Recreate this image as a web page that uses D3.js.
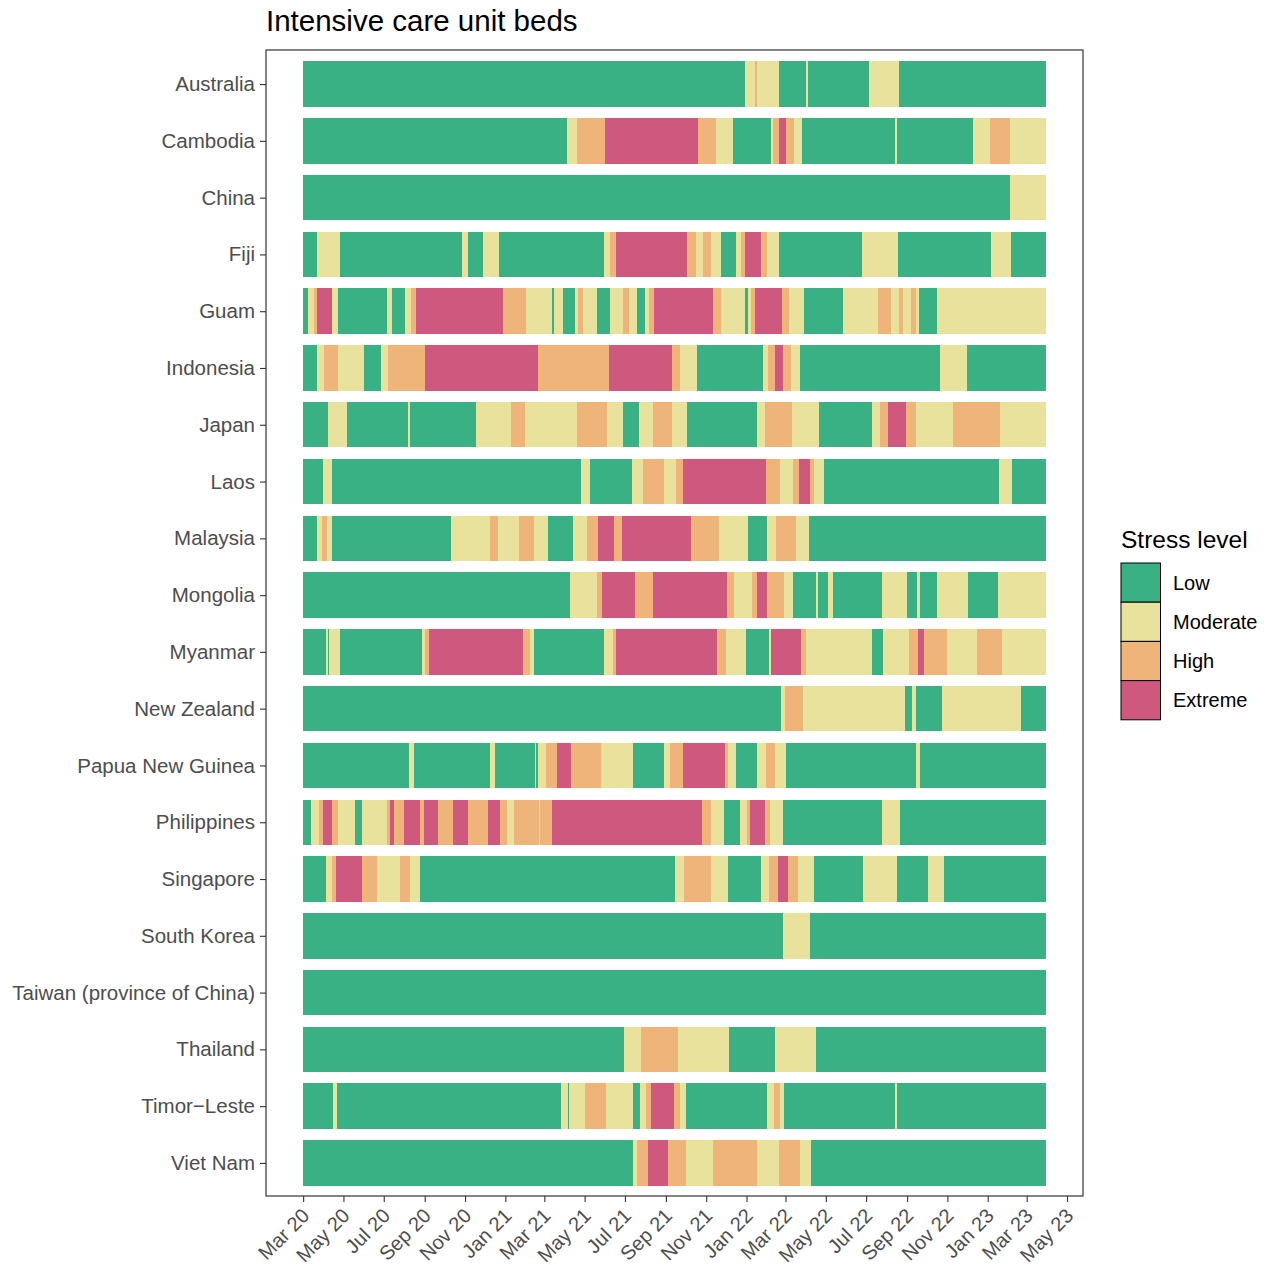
<!DOCTYPE html>
<html><head><meta charset="utf-8">
<script src="https://cdn.jsdelivr.net/npm/d3@7"></script>
<style>
body{margin:0;background:#fff;}
text{font-family:"Liberation Sans",Arial,Helvetica,sans-serif;}
</style>
</head><body>
<svg id="chart" width="1270" height="1265"></svg>
<script>
// ---------------- DATA ----------------
// Each country: list of [dayOffsetFromStart, stressLevelCode]; a level holds until the next change point.
const startDate = "2020-03-01";
const lastDay = 1124;
const levelCodes = ["L", "M", "H", "E"];
const levelNames = ["Low", "Moderate", "High", "Extreme"];
const levelColors = ["#39b185", "#e9e29c", "#eeb479", "#cf597e"];
const tickMonths = ["2020-03-01","2020-05-01","2020-07-01","2020-09-01","2020-11-01","2021-01-01","2021-03-01","2021-05-01","2021-07-01","2021-09-01","2021-11-01","2022-01-01","2022-03-01","2022-05-01","2022-07-01","2022-09-01","2022-11-01","2023-01-01","2023-03-01","2023-05-01"];
const countries = ["Australia","Cambodia","China","Fiji","Guam","Indonesia","Japan","Laos","Malaysia","Mongolia","Myanmar","New Zealand","Papua New Guinea","Philippines","Singapore","South Korea","Taiwan (province of China)","Thailand","Timor\u2212Leste","Viet Nam"];

const australia = [[0,"L"],[669,"M"],[684,"H"],[687,"M"],[720,"L"],[761,"M"],[764,"L"],[856,"M"],[902,"L"]];
const cambodia = [[0,"L"],[400,"M"],[415,"H"],[457,"E"],[598,"H"],[625,"M"],[651,"L"],[708,"M"],[711,"H"],[720,"E"],[731,"H"],[743,"M"],[755,"L"],[896,"M"],[899,"L"],[1014,"M"],[1040,"H"],[1070,"M"]];
const china = [[0,"L"],[1070,"M"]];
const fiji = [[0,"L"],[21,"M"],[56,"L"],[241,"M"],[250,"L"],[272,"M"],[297,"L"],[455,"M"],[465,"H"],[474,"E"],[581,"H"],[595,"M"],[605,"H"],[617,"M"],[633,"L"],[655,"M"],[663,"H"],[669,"E"],[693,"H"],[702,"M"],[720,"L"],[846,"M"],[900,"L"],[1041,"M"],[1071,"L"]];
const guam = [[0,"L"],[8,"M"],[17,"H"],[21,"E"],[44,"M"],[53,"L"],[127,"M"],[135,"L"],[154,"M"],[163,"H"],[171,"E"],[303,"H"],[337,"M"],[377,"L"],[380,"M"],[393,"L"],[412,"M"],[416,"H"],[424,"M"],[445,"L"],[465,"M"],[484,"H"],[493,"M"],[505,"L"],[518,"M"],[524,"H"],[531,"E"],[620,"H"],[633,"M"],[669,"L"],[673,"M"],[678,"H"],[684,"E"],[725,"H"],[735,"M"],[758,"L"],[817,"M"],[870,"H"],[890,"M"],[902,"H"],[908,"M"],[920,"H"],[928,"M"],[932,"L"],[959,"M"]];
const indonesia = [[0,"L"],[21,"M"],[32,"H"],[53,"M"],[92,"L"],[118,"M"],[129,"H"],[185,"E"],[356,"H"],[463,"E"],[558,"H"],[570,"M"],[596,"L"],[696,"M"],[704,"H"],[714,"E"],[726,"H"],[738,"M"],[752,"L"],[964,"M"],[1005,"L"]];
const japan = [[0,"L"],[38,"M"],[67,"L"],[159,"M"],[162,"L"],[262,"M"],[315,"H"],[336,"M"],[415,"H"],[460,"M"],[484,"L"],[508,"M"],[530,"H"],[558,"M"],[581,"L"],[687,"M"],[699,"H"],[740,"M"],[781,"L"],[861,"M"],[873,"H"],[885,"E"],[912,"H"],[928,"M"],[984,"H"],[1055,"M"]];
const laos = [[0,"L"],[30,"M"],[44,"L"],[421,"M"],[434,"L"],[498,"M"],[515,"H"],[546,"M"],[564,"H"],[575,"E"],[701,"H"],[722,"M"],[741,"H"],[751,"E"],[767,"H"],[773,"M"],[788,"L"],[1053,"M"],[1073,"L"]];
const malaysia = [[0,"L"],[21,"M"],[29,"H"],[36,"M"],[44,"L"],[224,"M"],[283,"H"],[295,"M"],[327,"H"],[350,"M"],[371,"L"],[409,"M"],[430,"H"],[446,"E"],[471,"H"],[483,"E"],[587,"H"],[629,"M"],[673,"L"],[702,"M"],[716,"H"],[746,"M"],[766,"L"]];
const mongolia = [[0,"L"],[404,"M"],[445,"H"],[452,"E"],[502,"H"],[530,"E"],[642,"H"],[652,"M"],[679,"H"],[687,"E"],[702,"H"],[728,"M"],[741,"L"],[776,"M"],[779,"L"],[794,"M"],[802,"L"],[876,"M"],[914,"L"],[929,"M"],[934,"L"],[959,"M"],[1006,"L"],[1052,"M"]];
const myanmar = [[0,"L"],[35,"M"],[38,"L"],[39,"M"],[56,"L"],[180,"M"],[185,"H"],[191,"E"],[333,"H"],[344,"M"],[350,"L"],[455,"M"],[469,"H"],[474,"E"],[626,"H"],[640,"M"],[670,"L"],[705,"M"],[708,"E"],[754,"H"],[761,"M"],[861,"L"],[878,"M"],[917,"H"],[931,"E"],[940,"H"],[974,"M"],[1020,"H"],[1058,"M"]];
const newZealand = [[0,"L"],[723,"M"],[729,"H"],[757,"M"],[911,"L"],[922,"M"],[928,"L"],[967,"M"],[1086,"L"]];
const papuaNewGuinea = [[0,"L"],[160,"M"],[168,"L"],[283,"M"],[291,"L"],[351,"M"],[353,"L"],[356,"M"],[368,"H"],[384,"E"],[406,"H"],[451,"M"],[499,"L"],[546,"M"],[555,"H"],[575,"E"],[639,"H"],[643,"M"],[655,"L"],[687,"M"],[701,"H"],[714,"M"],[731,"L"],[928,"M"],[934,"L"]];
const philippines = [[0,"L"],[12,"M"],[24,"H"],[30,"E"],[44,"H"],[53,"M"],[79,"L"],[89,"M"],[127,"H"],[132,"E"],[138,"H"],[153,"E"],[177,"H"],[183,"E"],[204,"H"],[227,"E"],[250,"H"],[280,"E"],[298,"H"],[309,"M"],[319,"H"],[357,"M"],[359,"H"],[377,"E"],[604,"H"],[617,"M"],[637,"L"],[661,"M"],[672,"H"],[676,"E"],[699,"H"],[707,"M"],[726,"L"],[876,"M"],[903,"L"]];
const singapore = [[0,"L"],[35,"M"],[44,"H"],[50,"E"],[89,"H"],[112,"M"],[147,"H"],[162,"M"],[177,"L"],[563,"M"],[577,"H"],[617,"M"],[643,"L"],[693,"M"],[705,"H"],[719,"E"],[734,"H"],[749,"M"],[773,"L"],[847,"M"],[899,"L"],[946,"M"],[970,"L"]];
const southKorea = [[0,"L"],[726,"M"],[767,"L"]];
const taiwan = [[0,"L"]];
const thailand = [[0,"L"],[486,"M"],[511,"H"],[567,"M"],[645,"L"],[714,"M"],[776,"L"]];
const timorLeste = [[0,"L"],[45,"M"],[51,"L"],[390,"M"],[401,"L"],[402,"M"],[427,"H"],[458,"M"],[499,"L"],[510,"M"],[519,"H"],[527,"E"],[561,"H"],[570,"M"],[580,"L"],[702,"M"],[713,"H"],[722,"M"],[728,"L"],[896,"M"],[899,"L"]];
const vietNam = [[0,"L"],[499,"M"],[505,"H"],[522,"E"],[552,"H"],[580,"M"],[620,"H"],[687,"M"],[720,"H"],[752,"M"],[769,"L"]];

const countryRuns = [australia,cambodia,china,fiji,guam,indonesia,japan,laos,malaysia,mongolia,myanmar,newZealand,papuaNewGuinea,philippines,singapore,southKorea,taiwan,thailand,timorLeste,vietNam];

// ---------------- CHART ----------------
const svg = d3.select("#chart");
const panel = {left: 266, right: 1083, top: 50, bottom: 1196};
const parse = d3.utcParse("%Y-%m-%d");
const t0 = parse(startDate);
const dayToDate = d => d3.utcDay.offset(t0, d);
const tEnd = dayToDate(lastDay);
const span = tEnd - t0;
const x = d3.scaleUtc()
  .domain([new Date(+t0 - span * 0.05), new Date(+tEnd + span * 0.05)])
  .range([panel.left, panel.right]);
const y = d3.scalePoint().domain(countries).range([panel.top, panel.bottom + 1]).padding(0.6);
const barH = y.step() * 0.8;
const color = d3.scaleOrdinal().domain(levelCodes).range(levelColors);

svg.append("rect").attr("width", 1270).attr("height", 1265).attr("fill", "#fff");

// segments
const segs = [];
countries.forEach((c, ci) => {
  const runs = countryRuns[ci];
  runs.forEach((r, i) => {
    const s = r[0];
    const e = i + 1 < runs.length ? runs[i + 1][0] : lastDay;
    segs.push({country: c, start: s, end: e, level: r[1]});
  });
});
svg.append("g").attr("shape-rendering", "crispEdges")
  .selectAll("rect").data(segs).join("rect")
  .attr("x", d => x(dayToDate(d.start)))
  .attr("width", d => x(dayToDate(d.end)) - x(dayToDate(d.start)))
  .attr("y", d => y(d.country) - barH / 2)
  .attr("height", barH)
  .attr("fill", d => color(d.level));

// panel border
svg.append("rect")
  .attr("x", panel.left).attr("y", panel.top)
  .attr("width", panel.right - panel.left).attr("height", panel.bottom - panel.top)
  .attr("fill", "none").attr("stroke", "#333").attr("stroke-width", 1.2);

// y axis
const yAxis = svg.append("g").attr("transform", `translate(${panel.left},0)`)
  .call(d3.axisLeft(y).tickSize(6).tickPadding(5));
yAxis.select(".domain").remove();
yAxis.selectAll(".tick line").attr("stroke", "#333").attr("stroke-width", 1.1);
yAxis.selectAll(".tick text").attr("font-size", 20.5).attr("fill", "#4d4d4d")
  .attr("font-family", '"Liberation Sans", Arial, sans-serif');

// x axis
const fmt = d3.utcFormat("%b %y");
const xAxis = svg.append("g").attr("transform", `translate(0,${panel.bottom})`)
  .call(d3.axisBottom(x).tickValues(tickMonths.map(parse)).tickFormat(fmt).tickSize(6).tickPadding(5));
xAxis.select(".domain").remove();
xAxis.selectAll(".tick line").attr("stroke", "#333").attr("stroke-width", 1.1);
xAxis.selectAll(".tick text")
  .attr("font-size", 20).attr("fill", "#4d4d4d")
  .attr("font-family", '"Liberation Sans", Arial, sans-serif')
  .attr("text-anchor", "end")
  .attr("dy", null)
  .attr("y", 0)
  .attr("transform", "translate(7,21) rotate(-45)");

// title
svg.append("text").attr("x", panel.left).attr("y", 31)
  .attr("font-size", 29.5).attr("fill", "#000").text("Intensive care unit beds");

// legend
const lg = svg.append("g");
lg.append("text").attr("x", 1121).attr("y", 548).attr("font-size", 24.5).attr("fill", "#000").text("Stress level");
const keyH = 39.2;
levelCodes.forEach((code, i) => {
  lg.append("rect").attr("x", 1121).attr("y", 563 + i * keyH).attr("width", 39.5).attr("height", keyH)
    .attr("fill", color(code)).attr("stroke", "#000").attr("stroke-width", 1);
  lg.append("text").attr("x", 1173).attr("y", 563 + i * keyH + keyH / 2).attr("dy", "0.35em")
    .attr("font-size", 20).attr("fill", "#000").text(levelNames[i]);
});
</script>
</body></html>
